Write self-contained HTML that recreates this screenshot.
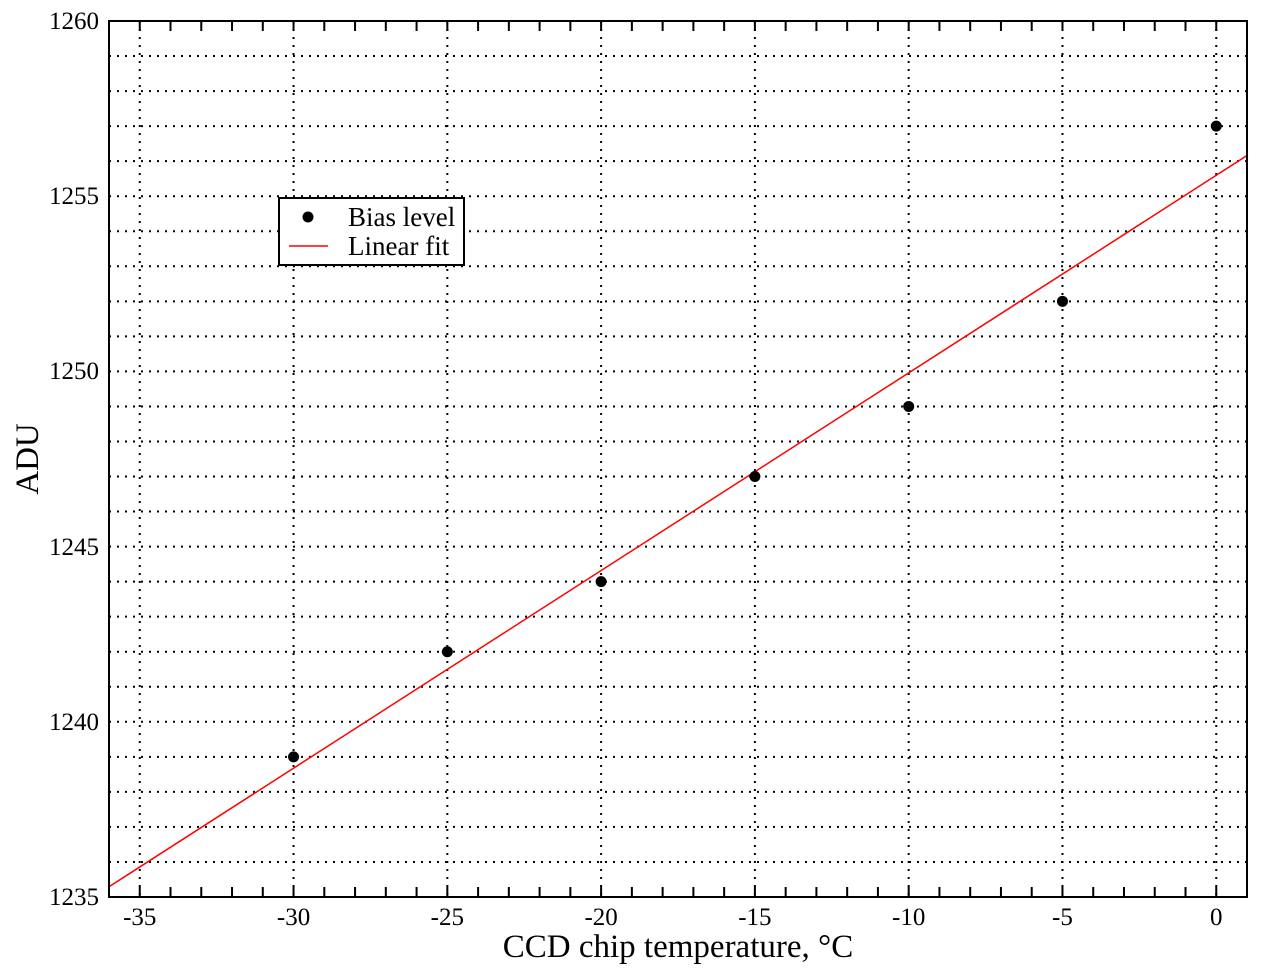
<!DOCTYPE html>
<html><head><style>body{margin:0;background:#fff}</style></head><body>
<svg width="1265" height="970" xmlns="http://www.w3.org/2000/svg" font-family="Liberation Serif, serif">
<rect width="1265" height="970" fill="#fff"/>
<g stroke="#000" stroke-width="2" stroke-dasharray="2,6">
<line x1="109" x2="1247" y1="861.96" y2="861.96"/><line x1="109" x2="1247" y1="826.92" y2="826.92"/>
<line x1="109" x2="1247" y1="791.88" y2="791.88"/><line x1="109" x2="1247" y1="756.84" y2="756.84"/>
<line x1="109" x2="1247" y1="721.8" y2="721.8"/><line x1="109" x2="1247" y1="686.76" y2="686.76"/>
<line x1="109" x2="1247" y1="651.72" y2="651.72"/><line x1="109" x2="1247" y1="616.68" y2="616.68"/>
<line x1="109" x2="1247" y1="581.64" y2="581.64"/><line x1="109" x2="1247" y1="546.6" y2="546.6"/>
<line x1="109" x2="1247" y1="511.56" y2="511.56"/><line x1="109" x2="1247" y1="476.52" y2="476.52"/>
<line x1="109" x2="1247" y1="441.48" y2="441.48"/><line x1="109" x2="1247" y1="406.44" y2="406.44"/>
<line x1="109" x2="1247" y1="371.4" y2="371.4"/><line x1="109" x2="1247" y1="336.36" y2="336.36"/>
<line x1="109" x2="1247" y1="301.32" y2="301.32"/><line x1="109" x2="1247" y1="266.28" y2="266.28"/>
<line x1="109" x2="1247" y1="231.24" y2="231.24"/><line x1="109" x2="1247" y1="196.2" y2="196.2"/>
<line x1="109" x2="1247" y1="161.16" y2="161.16"/><line x1="109" x2="1247" y1="126.12" y2="126.12"/>
<line x1="109" x2="1247" y1="91.08" y2="91.08"/><line x1="109" x2="1247" y1="56.04" y2="56.04"/>
<line y1="21" y2="897" x1="139.76" x2="139.76"/><line y1="21" y2="897" x1="293.54" x2="293.54"/>
<line y1="21" y2="897" x1="447.33" x2="447.33"/><line y1="21" y2="897" x1="601.11" x2="601.11"/>
<line y1="21" y2="897" x1="754.9" x2="754.9"/><line y1="21" y2="897" x1="908.68" x2="908.68"/>
<line y1="21" y2="897" x1="1062.47" x2="1062.47"/><line y1="21" y2="897" x1="1216.25" x2="1216.25"/>
</g>
<g stroke="#000" stroke-width="10" stroke-dasharray="2 28.757">
<line x1="138.76" x2="1247" y1="892" y2="892"/>
<line x1="138.76" x2="1247" y1="26" y2="26"/>
</g>
<line x1="109" y1="886.77" x2="1247" y2="155.5" stroke="#f00" stroke-width="1.5"/>
<g fill="#000">
<circle cx="293.54" cy="756.84" r="5.5"/><circle cx="447.33" cy="651.72" r="5.5"/>
<circle cx="601.11" cy="581.64" r="5.5"/><circle cx="754.9" cy="476.52" r="5.5"/>
<circle cx="908.68" cy="406.44" r="5.5"/><circle cx="1062.47" cy="301.32" r="5.5"/>
<circle cx="1216.25" cy="126.12" r="5.5"/>
</g>
<rect x="109" y="21" width="1138" height="876" fill="none" stroke="#000" stroke-width="2"/>
<g font-size="25" text-anchor="end">
<text x="99" y="905">1235</text><text x="99" y="730">1240</text><text x="99" y="555">1245</text>
<text x="99" y="379">1250</text><text x="99" y="204">1255</text><text x="99" y="29">1260</text>
</g>
<g font-size="25" text-anchor="middle">
<text x="139.76" y="925">-35</text><text x="293.54" y="925">-30</text><text x="447.33" y="925">-25</text>
<text x="601.11" y="925">-20</text><text x="754.9" y="925">-15</text><text x="908.68" y="925">-10</text>
<text x="1062.47" y="925">-5</text><text x="1216.25" y="925">0</text>
</g>
<rect x="279" y="198" width="185" height="67" fill="#fff" stroke="#000" stroke-width="2"/>
<circle cx="308" cy="217" r="5.5" fill="#000"/>
<line x1="289" x2="328" y1="246" y2="246" stroke="#f00" stroke-width="1.5"/>
<text x="348" y="226" font-size="27">Bias level</text>
<text x="348" y="255" font-size="27">Linear fit</text>
<text x="678" y="957" font-size="33" text-anchor="middle">CCD chip temperature, °C</text>
<text transform="translate(38,459) rotate(-90)" font-size="33" text-anchor="middle">ADU</text>
</svg>
</body></html>
